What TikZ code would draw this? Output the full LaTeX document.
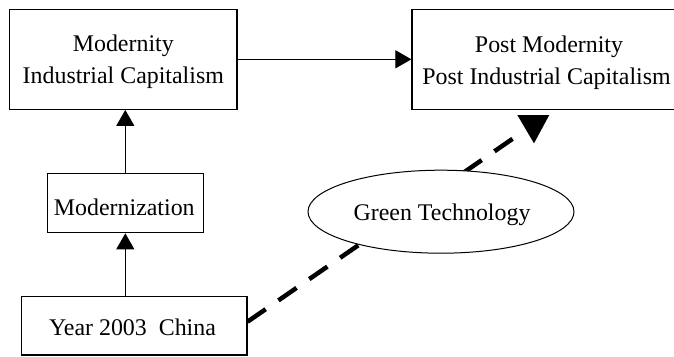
\documentclass[tikz,border=0pt]{standalone}
\usepackage{fontspec}
\setmainfont{Liberation Serif}
\usetikzlibrary{arrows.meta,calc,shapes.geometric}
\begin{document}
\begin{tikzpicture}[x=1pt,y=-1pt,
  txt/.style={font=\fontsize{23.9}{32}\selectfont,inner sep=0pt,anchor=base},
  box/.style={draw,line width=1.2pt,rectangle,inner sep=0pt},
  arr/.style={line width=1pt,-{Triangle[length=16pt,width=18pt]}},
  dashline/.style={line width=4.5pt,dash pattern=on 22pt off 15.5pt}]
\clip (0,0) rectangle (674,356);
\useasboundingbox (0,0) rectangle (674,356);
% boxes
\node[box,minimum width=227.7pt,minimum height=100pt] (A) at (123.2,59.3) {};
\node[box,minimum width=274pt,minimum height=100pt] (B) at (549,59.3) {};
\node[box,minimum width=156pt,minimum height=59.5pt] (C) at (125.3,203) {};
\node[box,minimum width=225.3pt,minimum height=58.3pt] (D) at (134.3,325.9) {};
% texts
\node[txt] (A1) at (123.3,51) {Modernity};
\node[txt] (A2) at (123.3,83.3) {Industrial Capitalism};
\node[txt] (B1) at (549,52.3) {Post Modernity};
\node[txt] (B2) at (546.5,84.3) {Post Industrial Capitalism};
\node[txt] (C1) at (124.3,215.5) {Modernization};
\node[txt] (D1) at (132.5,335) {Year 2003\ \ China};
% arrows
\draw[arr] (A.east) -- (B.west);
\draw[arr] (C.north) -- (C.north |- A.south);
\draw[arr] (D.north -| C.south) -- (C.south);
% dashed link through the ellipse
\coordinate (E) at (513.3,138.3);
\draw[dashline] ($(D.east)+(0,-4.2)$) -- (E);
\node[draw,ellipse,fill=white,line width=1pt,inner sep=0pt,minimum width=266pt,minimum height=83pt] (G) at (441,211.7) {};
\node[txt] (G1) at (442,220) {Green Technology};
\fill (517.3,115) -- (549.3,115) -- (534,143.3) -- cycle;
\end{tikzpicture}
\end{document}
